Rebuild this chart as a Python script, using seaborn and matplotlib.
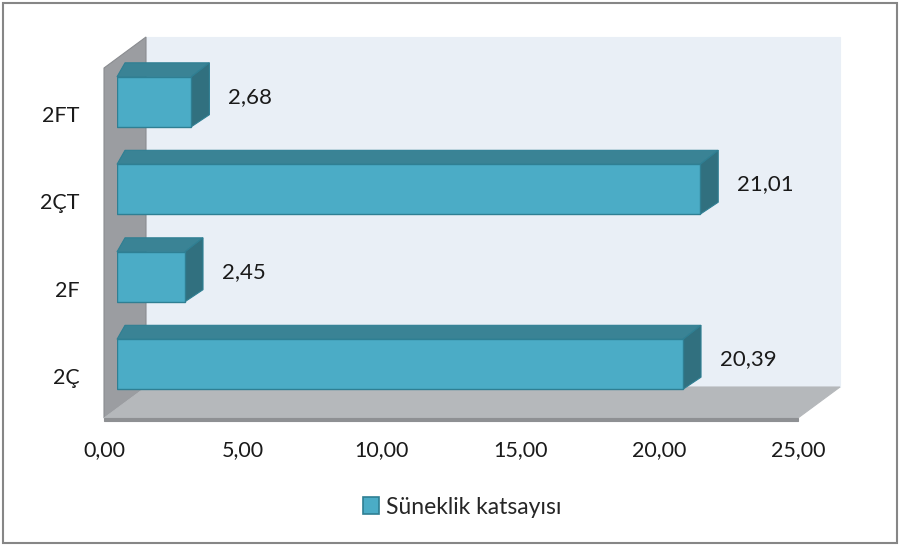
import pandas as pd
import seaborn as sns
import matplotlib.pyplot as plt
from matplotlib.patches import Polygon, Rectangle, Patch
from matplotlib.transforms import IdentityTransform, ScaledTranslation

categories = ["2FT", "2ÇT", "2F", "2Ç"]
values = [2.68, 21.01, 2.45, 20.39]
value_labels = ["2,68", "21,01", "2,45", "20,39"]
xticks = [0, 5, 10, 15, 20, 25]
xtick_labels = ["0,00", "5,00", "10,00", "15,00", "20,00", "25,00"]
series_name = "Süneklik katsayısı"

sns.set_theme(style="white")
plt.rcParams["font.family"] = ["Lato", "DejaVu Sans"]

df = pd.DataFrame({"kategori": categories, "deger": values})

W, H = 900, 546
fig = plt.figure(figsize=(9, 5.46), dpi=100)
ax = fig.add_axes([117 / W, 138 / H, 694 / W, 350 / H])
ax.patch.set_visible(False)

front = "#4BACC6"
top_c = "#3A8395"
side_c = "#31707F"
edge_c = "#2F7F93"
txt = "#1A1A1A"
fs = 15.5

sns.barplot(data=df, x="deger", y="kategori", order=categories, orient="h",
            color=front, saturation=1, width=0.57, edgecolor=edge_c,
            linewidth=1, ax=ax, zorder=5)
ax.set_xlim(0, 25)
ax.set_ylim(3.5, -0.5)
bars = list(ax.patches)

def pix(pts):
    # image pixel coords (y down) -> display coords
    return [(x, H - y) for x, y in pts]

# walls / floor, placed around the axes box
bb = ax.get_position()
L, R = bb.x0 * W, bb.x1 * W
T, B = H - bb.y1 * H, H - bb.y0 * H
fx, fy = -13, 10      # front plane offset
dx, dy = 42, -31      # depth offset
fl, fr, ft, fb = L + fx, R + fx, T + fy, B + fy
bl, br, bt, bbm = fl + dx, fr + dx, ft + dy, fb + dy

walls = [
    (pix([(bl, bt), (br, bt), (br, bbm), (bl, bbm)]), "#E9EFF6", "#E9EFF6"),
    (pix([(fl, ft), (bl, bt), (bl, bbm), (fl, fb)]), "#9B9DA1", "#8A8C90"),
    (pix([(fl, fb), (bl, bbm), (br, bbm), (fr, fb)]), "#B5B8BB", "#B5B8BB"),
    (pix([(fl, fb), (fr, fb), (fr, fb + 3), (fl, fb + 3)]), "#8E9093", "#8E9093"),
]
for pts, fc, ec in walls:
    ax.add_patch(Polygon(pts, closed=True, facecolor=fc, edgecolor=ec, lw=0.8,
                         transform=IdentityTransform(), clip_on=False, zorder=0))

# 3d faces for the bars, built from the bar geometry
bdx_l, bdx_r, bdy = 8, 18, 14
for p in bars:
    x0, y0, w, h = p.get_x(), p.get_y(), p.get_width(), p.get_height()
    xl, yt = ax.transData.transform((x0, y0))
    xr, yb = ax.transData.transform((x0 + w, y0 + h))
    top_pts = [(xl, yt), (xr, yt), (xr + bdx_r, yt + bdy), (xl + bdx_l, yt + bdy)]
    side_pts = [(xr, yt), (xr + bdx_r, yt + bdy), (xr + bdx_r, yb + bdy - 2), (xr, yb)]
    ax.add_patch(Polygon(top_pts, closed=True, facecolor=top_c, edgecolor=edge_c,
                         lw=0.8, transform=IdentityTransform(), clip_on=False, zorder=4))
    ax.add_patch(Polygon(side_pts, closed=True, facecolor=side_c, edgecolor=edge_c,
                         lw=0.8, transform=IdentityTransform(), clip_on=False, zorder=4))

for i, (v, lbl) in enumerate(zip(values, value_labels)):
    ax.annotate(lbl, xy=(v, i), xytext=(37, 5), textcoords="offset pixels",
                ha="left", va="center", fontsize=16, color=txt, zorder=6)

ax.set_xticks(xticks)
ax.set_xticklabels(xtick_labels)
ax.tick_params(axis="x", length=0, pad=23, labelsize=fs, labelcolor=txt)
ax.tick_params(axis="y", length=0, pad=27, labelsize=fs, labelcolor=txt)
for t in ax.get_xticklabels():
    t.set_transform(t.get_transform() + ScaledTranslation(-0.13, 0, fig.dpi_scale_trans))
for t in ax.get_yticklabels():
    t.set_transform(t.get_transform() + ScaledTranslation(0, -0.12, fig.dpi_scale_trans))
ax.set_xlabel("")
ax.set_ylabel("")
sns.despine(ax=ax, left=True, bottom=True)

handle = Patch(facecolor=front, edgecolor=edge_c, lw=1.2)
fig.legend([handle], [series_name], loc="center", bbox_to_anchor=(462 / W, 1 - 507 / H),
           frameon=False, fontsize=16.5, handlelength=0.7, handleheight=0.7,
           handletextpad=0.3)

fig.add_artist(Rectangle((3 / W, 3 / H), 894 / W, 540 / H, transform=fig.transFigure,
                         fill=False, edgecolor="#868686", lw=1.5))

fig.savefig("out.png", dpi=100)
